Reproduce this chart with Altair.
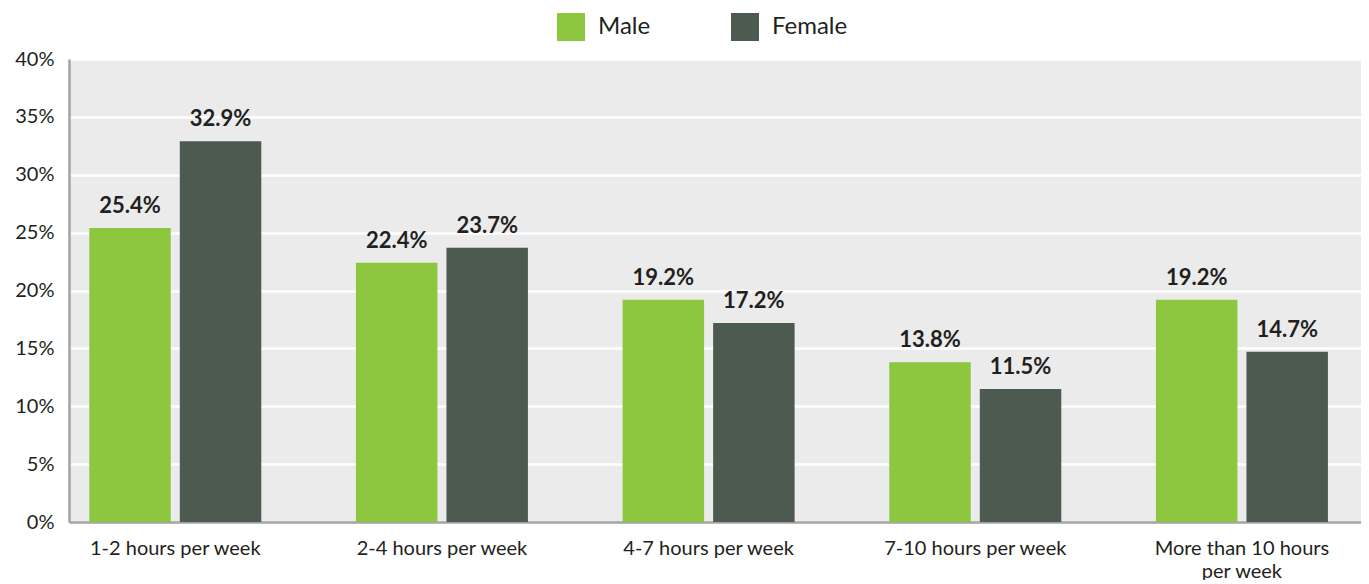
import altair as alt
import pandas as pd

categories = ["1-2 hours per week", "2-4 hours per week", "4-7 hours per week",
              "7-10 hours per week", "More than 10 hours per week"]
series = ["Male", "Female"]
male = [25.4, 22.4, 19.2, 13.8, 19.2]
female = [32.9, 23.7, 17.2, 11.5, 14.7]
colors = ["#8dc63f", "#4d5a50"]
y_ticks = [0, 5, 10, 15, 20, 25, 30, 35, 40]

rows = []
for i, c in enumerate(categories):
    rows.append({"cat": c, "sex": "Male", "value": male[i]})
    rows.append({"cat": c, "sex": "Female", "value": female[i]})
df = pd.DataFrame(rows)

FONT = "Lato"

x = alt.X("cat:N", sort=categories, title=None,
          scale=alt.Scale(paddingInner=0.355, paddingOuter=0.1, align=0.38),
          axis=alt.Axis(labelAngle=0, labelFontSize=20, labelColor="#231f20",
                        labelFont=FONT, labelPadding=16, ticks=False,
                        labelLimit=400, labelOverlap=False,
                        domainColor="#a3a3a3", domainWidth=2.5,
                        labelLineHeight=23,
                        labelExpr="datum.label == 'More than 10 hours per week' ? ['More than 10 hours', 'per week'] : datum.label"))
xo = alt.XOffset("sex:N", sort=series, scale=alt.Scale(paddingInner=0.1, paddingOuter=0))
y = alt.Y("value:Q", title=None,
          scale=alt.Scale(domain=[0, 40], nice=False),
          axis=alt.Axis(values=y_ticks, labelExpr="datum.value + '%'",
                        labelFontSize=20, labelColor="#231f20", labelFont=FONT,
                        labelPadding=15, ticks=False, domainColor="#a3a3a3",
                        domainWidth=2.5, gridColor="#ffffff", gridWidth=2.5))

bars = alt.Chart(df).mark_bar().encode(
    x=x, xOffset=xo, y=y,
    color=alt.Color("sex:N", sort=series,
                    scale=alt.Scale(domain=series, range=colors),
                    legend=alt.Legend(title=None, orient="none", direction="horizontal",
                                      legendX=488, legendY=-46, symbolType="square",
                                      symbolSize=784, symbolStrokeWidth=0,
                                      labelFontSize=24, labelFont=FONT,
                                      labelColor="#231f20", labelOffset=13,
                                      columnPadding=80, padding=0))
)

labels = alt.Chart(df).mark_text(dy=-22, fontSize=22, fontWeight="bold",
                                 font=FONT, color="#231f20").transform_calculate(
    lbl="format(datum.value, '.1f') + '%'"
).encode(x=x, xOffset=xo, y=y, text="lbl:N")

chart = alt.layer(bars, labels).properties(
    width=1292, height=463,
    padding={"left": 61, "top": 51, "right": 0, "bottom": 58},
    autosize=alt.AutoSizeParams(type="none"),
).configure_view(fill="#ebebeb", stroke=None)

chart.save("out.html", embed_options={"renderer": "svg", "actions": False})
